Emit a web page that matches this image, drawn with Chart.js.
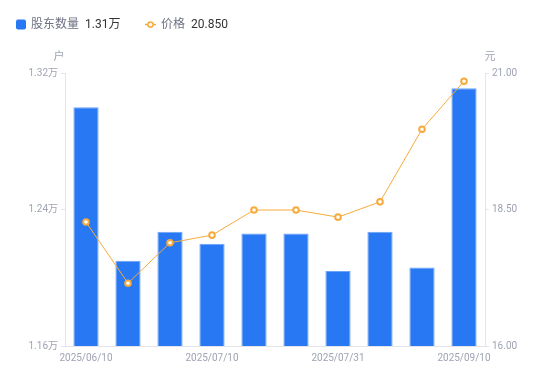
<!DOCTYPE html>
<html><head><meta charset="utf-8">
<script src="https://cdn.jsdelivr.net/npm/chart.js@4/dist/chart.umd.min.js"></script>
<style>html,body{margin:0;padding:0;background:#fff}#wrap{width:550px;height:381px;position:relative}</style>
</head><body><div id="wrap"><canvas id="c" width="550" height="381"></canvas></div>
<script>
const dates = ['2025/06/10','2025/06/20','2025/06/30','2025/07/10','2025/07/18','2025/07/20','2025/07/31','2025/08/10','2025/08/20','2025/09/10'];
const holders = [1.300, 1.210, 1.227, 1.220, 1.226, 1.226, 1.204, 1.227, 1.206, 1.311];
const prices = [18.27, 17.15, 17.89, 18.03, 18.49, 18.49, 18.36, 18.64, 19.97, 20.85];
const leftTicks = [1.16, 1.24, 1.32];
const rightTicks = [16, 18.5, 21];
const legendHolders = '1.31万';
const legendPrice = '20.850';

const FONT = 'Roboto, "Noto Sans CJK SC", sans-serif';
const tickColor = '#9fa3b3';
const axisColor = '#e3e5ea';
const BLUE = '#2878f4';
const ORANGE = '#f7ab3c';

const overlay = {
  id: 'overlay',
  afterDraw(chart) {
    const ctx = chart.ctx;
    ctx.save();
    ctx.textBaseline = 'middle';
    ctx.fillStyle = BLUE;
    ctx.beginPath(); ctx.roundRect(16, 19.5, 10, 10, 2); ctx.fill();
    ctx.font = '12px ' + FONT;
    ctx.textAlign = 'left';
    ctx.fillStyle = '#6e7282'; ctx.fillText('股东数量', 31, 25);
    ctx.fillStyle = '#333333'; ctx.fillText(legendHolders, 85, 25);
    ctx.strokeStyle = ORANGE; ctx.lineWidth = 1.5;
    ctx.beginPath(); ctx.moveTo(145, 24.5); ctx.lineTo(156, 24.5); ctx.stroke();
    ctx.fillStyle = '#fff';
    ctx.beginPath(); ctx.arc(150.5, 24.5, 2.6, 0, Math.PI * 2); ctx.fill(); ctx.stroke();
    ctx.fillStyle = '#6e7282'; ctx.fillText('价格', 161, 25);
    ctx.fillStyle = '#333333'; ctx.fillText(legendPrice, 191, 25);
    ctx.font = '11px ' + FONT;
    ctx.fillStyle = tickColor;
    ctx.textAlign = 'center';
    ctx.fillText('户', 59, 57);
    ctx.fillText('元', 490, 57);
    ctx.restore();
  }
};

new Chart(document.getElementById('c'), {
  data: {
    labels: dates,
    datasets: [
      { type: 'line', label: '价格', data: prices, yAxisID: 'y1', borderColor: ORANGE, borderWidth: 1,
        pointRadius: 2.8, pointBorderWidth: 2, pointBackgroundColor: '#ffffff', pointBorderColor: ORANGE,
        tension: 0, order: 0 },
      { type: 'bar', label: '股东数量', data: holders, yAxisID: 'y', backgroundColor: BLUE,
        borderColor: '#6aa3f7', borderWidth: 1, categoryPercentage: 1, barPercentage: 0.6, order: 1 }
    ]
  },
  options: {
    responsive: false, animation: false,
    layout: { padding: { top: 73, left: 0, right: 0, bottom: 0 } },
    plugins: { legend: { display: false }, tooltip: { enabled: false } },
    scales: {
      x: {
        offset: true,
        grid: { display: false, drawTicks: false },
        border: { color: axisColor, width: 1 },
        ticks: { autoSkip: false, maxRotation: 0, color: tickColor, font: { size: 10, family: FONT }, padding: 6,
          callback: (v, i) => (i % 3 === 0 ? dates[i] : '') },
        afterFit: s => { s.height = 35; }
      },
      y: {
        position: 'left', min: 1.16, max: 1.32,
        afterBuildTicks: s => { s.ticks = leftTicks.map(v => ({ value: v })); },
        grid: { display: true, drawOnChartArea: false, drawTicks: true, tickLength: 4, color: axisColor },
        border: { color: axisColor, width: 1 },
        ticks: { color: tickColor, font: { size: 10, family: FONT }, padding: 3,
          callback: v => v.toFixed(2) + '万' },
        afterFit: s => { s.width = 65; }
      },
      y1: {
        position: 'right', min: 16, max: 21,
        afterBuildTicks: s => { s.ticks = rightTicks.map(v => ({ value: v })); },
        grid: { display: true, drawOnChartArea: false, drawTicks: true, tickLength: 4, color: axisColor },
        border: { color: axisColor, width: 1 },
        ticks: { color: tickColor, font: { size: 10, family: FONT }, padding: 3,
          callback: v => v.toFixed(2) },
        afterFit: s => { s.width = 65; }
      }
    }
  },
  plugins: [overlay]
});
</script></body></html>
